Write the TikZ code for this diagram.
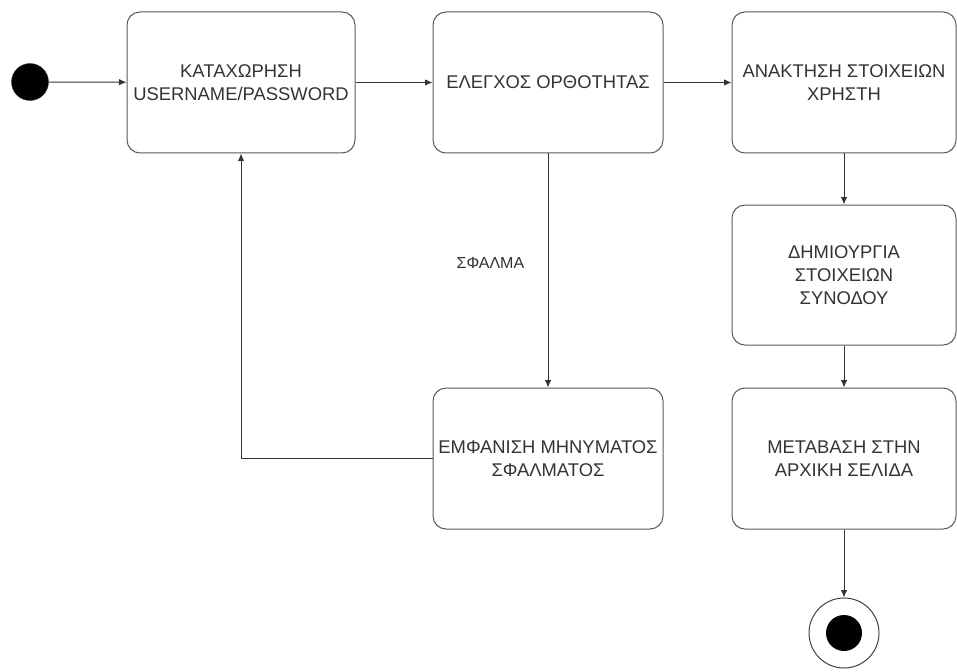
\documentclass[tikz,border=0pt]{standalone}
\usepackage{fontspec}
\setmainfont{Liberation Sans}
\usetikzlibrary{arrows.meta}

\begin{document}
\begin{tikzpicture}[%
      x=1pt, y=-1pt,
      state/.style={draw=black!65, line width=1pt, rounded corners=13pt,
        minimum height=141pt, inner sep=0pt, align=center,
        text=black!80, font=\fontsize{18.4}{23}\selectfont},
      flow/.style={draw=black!80, line width=1pt, -{Latex[length=7.5pt,width=6.5pt]}},
      initstate/.style={circle, fill=black, draw=black!80, minimum size=37pt, inner sep=0pt},
      endstate/.style={circle, draw=black!75, line width=1pt, minimum size=70pt, inner sep=0pt},
      lbl/.style={text=black!80, font=\fontsize{16}{19}\selectfont},
      ]
      \useasboundingbox (0,0) rectangle (957,671);

      \node[initstate] (init) at (30,82) {};

      \node[state, minimum width=228pt] (enter) at (241,82.5) {ΚΑΤΑΧΩΡΗΣΗ\\USERNAME/PASSWORD};
      \node[state, minimum width=230pt] (check) at (548,82.5) {ΕΛΕΓΧΟΣ ΟΡΘΟΤΗΤΑΣ};
      \node[state, minimum width=224pt] (fetch) at (844,82.5) {ΑΝΑΚΤΗΣΗ ΣΤΟΙΧΕΙΩΝ\\ΧΡΗΣΤΗ};
      \node[state, minimum width=224pt, minimum height=140pt] (session) at (844,275) {ΔΗΜΙΟΥΡΓΙΑ\\ΣΤΟΙΧΕΙΩΝ\\ΣΥΝΟΔΟΥ};
      \node[state, minimum width=224pt] (home) at (844,458.5) {ΜΕΤΑΒΑΣΗ ΣΤΗΝ\\ΑΡΧΙΚΗ ΣΕΛΙΔΑ};
      \node[state, minimum width=230pt] (error) at (548,458.5) {ΕΜΦΑΝΙΣΗ ΜΗΝΥΜΑΤΟΣ\\ΣΦΑΛΜΑΤΟΣ};

      \node[endstate] (final) at (844,633) {};
      \fill[black] (final.center) circle (18pt);

      \draw[flow] (init) -- (enter);
      \draw[flow] (enter) -- (check);
      \draw[flow] (check) -- (fetch);
      \draw[flow] (fetch) -- (session);
      \draw[flow] (session) -- (home);
      \draw[flow] (home) -- (final);
      \draw[flow] (check) -- node[pos=0.47, left=20pt, lbl] (errlbl) {ΣΦΑΛΜΑ} (error);
      \draw[flow] (error.west) -| (enter.south);
\end{tikzpicture}
\end{document}
